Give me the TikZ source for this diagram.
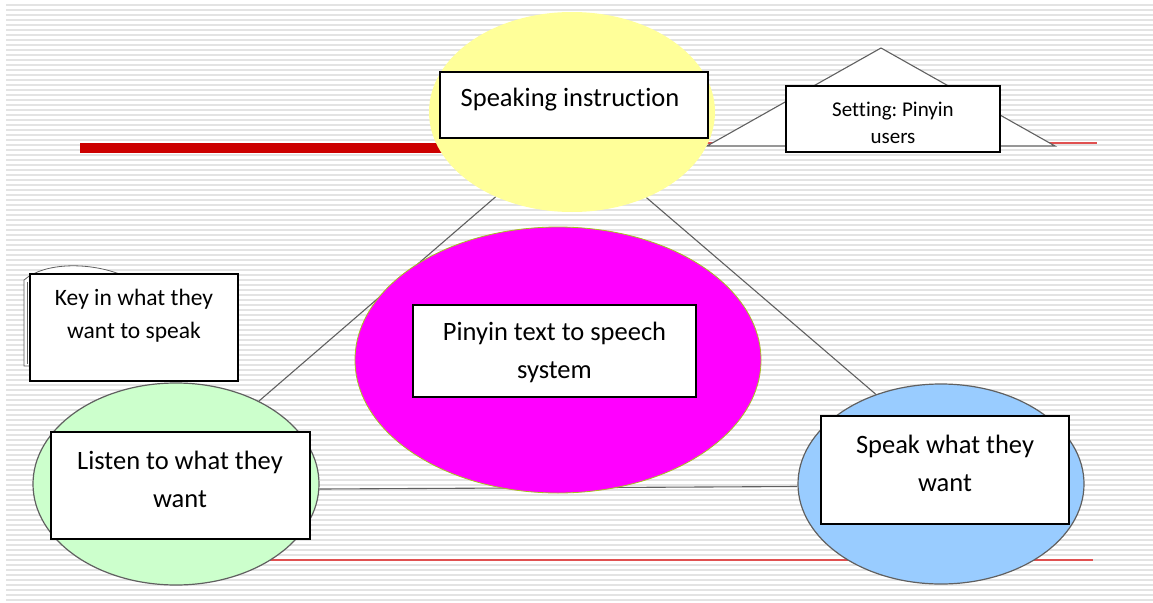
\documentclass[tikz,border=0pt]{standalone}
\usepackage{fontspec}
\setmainfont{Carlito}[Ligatures=NoCommon]
\usetikzlibrary{shapes.geometric,backgrounds}
\definecolor{stripe}{HTML}{E3E3E3}
\definecolor{redbar}{HTML}{CC0000}
\definecolor{redthin}{HTML}{E05050}
\definecolor{yell}{HTML}{FFFF99}
\definecolor{grn}{HTML}{CCFFCC}
\definecolor{blu}{HTML}{99CCFF}
\definecolor{mag}{HTML}{FF00FF}
\definecolor{olive}{HTML}{A8C020}
\definecolor{linkgray}{HTML}{606060}
\frenchspacing
\begin{document}
\begin{tikzpicture}[x=1pt,y=-1pt,
  bubble/.style={ellipse, inner sep=0pt},
  boxnode/.style={draw=black, line width=1.5pt, fill=white, inner sep=0pt},
  txt/.style={align=center, inner sep=0pt, font=\fontsize{26.5}{38}\selectfont},
  link/.style={draw=linkgray, line width=1.1pt}]
\useasboundingbox (0,0) rectangle (1153,602);
\begin{pgfonlayer}{background}
% background stripes
\foreach \yy in {5,10,...,600} {\draw[stripe, line width=1.4pt] (6,\yy) -- (1153,\yy);}
% red lines
\draw[redbar, line width=10pt] (80,147.5) -- (500,147.5);
\draw[redthin, line width=1.2pt] (690,143) -- (1097,143);
\draw[redthin, line width=1.2pt] (240,560) -- (1093,560);
\end{pgfonlayer}
% setting triangle
\draw[linkgray, line width=1.1pt, fill=white] (707,146) -- (881,48) -- (1055,146) -- cycle;

% ellipses
\node[bubble, fill=yell, minimum width=286pt, minimum height=200pt] (Y) at (572,112) {};
\node[bubble, fill=grn, draw=linkgray, line width=1.2pt, minimum width=286pt, minimum height=202pt] (G) at (176,484) {};
\node[bubble, fill=blu, draw=linkgray, line width=1.2pt, minimum width=286pt, minimum height=200pt] (B) at (941,484) {};

% connectors (behind the ellipses)
\begin{pgfonlayer}{background}
\draw[link] (Y.228) -- (G.45);
\draw[link] (Y.311) -- (B.126);
\draw[link] (G.-2) -- (B.181);
\end{pgfonlayer}

\node[bubble, fill=mag, draw=olive, line width=0.8pt, minimum width=406pt, minimum height=266pt] (P) at (558,360) {};

% document shape behind key-in box
\draw[linkgray, line width=0.8pt, fill=white] (24,366) -- (24,280) .. controls (45,262) and (90,262) .. (122,275) -- (122,366) -- cycle;
\draw[linkgray, line width=0.8pt] (27,364) -- (27,282);

% boxes
\node[boxnode, minimum width=268pt, minimum height=66pt] (SIbox) at (574,105) {};
\node[txt] (SI) at (570,100) {Speaking instruction};

\node[boxnode, minimum width=214pt, minimum height=66pt] (STbox) at (893,119) {};
\node[txt, font=\fontsize{21}{27}\selectfont] (ST) at (893,123) {Setting: Pinyin\\users};

\node[boxnode, minimum width=208pt, minimum height=107pt] (KYbox) at (134,327.5) {};
\node[txt, font=\fontsize{23.5}{33}\selectfont] (KY) at (134,316) {Key in what they\\want to speak};

\node[boxnode, minimum width=259pt, minimum height=107pt] (LSbox) at (180.5,485.5) {};
\node[txt] (LS) at (180,479) {Listen to what they\\want};

\node[boxnode, minimum width=248pt, minimum height=108pt] (SPbox) at (945,470) {};
\node[txt] (SP) at (945,463.5) {Speak what they\\want};

\node[boxnode, minimum width=283pt, minimum height=92pt] (PYbox) at (554.5,351) {};
\node[txt] (PY) at (554.5,352) {Pinyin text to speech\\system};
\end{tikzpicture}
\end{document}
